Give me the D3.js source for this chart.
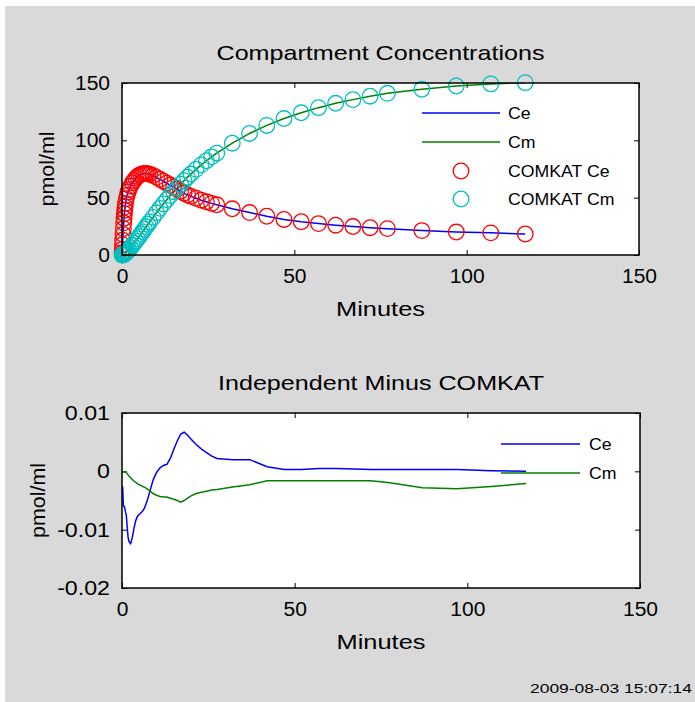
<!DOCTYPE html>
<html><head><meta charset="utf-8">
<script src="https://cdn.jsdelivr.net/npm/d3@7"></script>
<style>
html,body{margin:0;padding:0;background:#fff;}
svg text{font-family:"Liberation Sans",Arial,sans-serif;fill:#000;}
</style></head>
<body>
<svg id="chart" width="695" height="702"></svg>
<script>
// ---- data ----
const times = [0.05,0.1,0.15,0.2,0.3,0.4,0.5,0.6,0.7,0.8,0.9,1.0,1.25,1.5,1.75,2.0,2.5,3.0,3.5,4.0,4.5,5.0,5.5,6.0,6.5,7.0,7.5,8.0,9,10,11,12,13,14,15,16,17,18,19,20,21.5,23,24.5,26,27.5,32,37,42,47,52,57,62,67,72,77,87,97,107,117];
const ceValues = [2,5,9,13,18,23,28,32,36,39,42,45,49,52,55,57,60,63,65,67,68.5,69.5,70.3,70.8,71,71,70.8,70.4,69.4,67.7,66,64.3,62.6,61,59.2,57.4,55.6,53.8,52.4,51.1,49.5,47.8,46.4,45,43.8,40.3,37,33.8,31,29,27.4,26,24.8,23.8,23,21.3,20,19.3,18.3];
const cmValues = [0.01,0.03,0.07,0.12,0.2,0.3,0.43,0.6,0.82,1.04,1.29,1.55,2.25,3.0,3.8,4.65,6.4,8.25,10.2,12.1,14.2,16.2,18.3,20.4,22.5,24.6,26.7,28.8,32.8,36.8,40.7,44.5,48.2,51.8,55.2,58.5,61.7,64.8,67.8,70.6,74.7,78.6,82.2,85.6,88.8,97.5,106,113,119,124,128.5,132.3,135.5,138.5,141,144.5,147.4,149.2,150.3];
const diffCe = [-0.0025,-0.0026,-0.0027,-0.0028,-0.0045,-0.0058,-0.006,-0.006,-0.0061,-0.0063,-0.0066,-0.007,-0.0075,-0.0095,-0.0112,-0.012,-0.0124,-0.0113,-0.0097,-0.0084,-0.0077,-0.0074,-0.0071,-0.0068,-0.0063,-0.0055,-0.0046,-0.0036,-0.0015,-0.0002,0.0006,0.001,0.0012,0.0022,0.0038,0.0052,0.0064,0.0067,0.0062,0.0055,0.0046,0.0038,0.0032,0.0026,0.0022,0.002,0.002,0.0008,0.0003,0.0003,0.0005,0.0005,0.0004,0.0003,0.0003,0.0003,0.0003,0.0001,0.0];
const diffCm = [0,0,0,-0.0001,-0.0001,-0.0001,-0.0001,-0.0001,-0.0001,-0.0001,-0.0001,-0.0001,-0.0002,-0.0004,-0.0006,-0.0008,-0.0011,-0.0014,-0.0017,-0.0019,-0.0021,-0.0023,-0.0024,-0.0026,-0.0027,-0.0029,-0.0031,-0.0033,-0.0038,-0.0041,-0.0043,-0.0044,-0.0044,-0.0046,-0.0048,-0.005,-0.0053,-0.005,-0.0046,-0.0042,-0.0038,-0.0036,-0.0034,-0.0032,-0.0031,-0.0027,-0.0023,-0.0016,-0.0016,-0.0016,-0.0016,-0.0016,-0.0016,-0.0016,-0.0019,-0.0028,-0.003,-0.0026,-0.0021];
const xTicks = [0,50,100,150];
const topYTicks = [0,50,100,150];
const botYTicks = [0.01,0,-0.01,-0.02];
const botYTickLabels = ["0.01","0","-0.01","-0.02"];
const topLegend = ["Ce","Cm","COMKAT Ce","COMKAT Cm"];
const botLegend = ["Ce","Cm"];
const titles = ["Compartment Concentrations","Independent Minus COMKAT"];
const xLabel = "Minutes", yLabel = "pmol/ml";
const stamp = "2009-08-03 15:07:14";

// ---- drawing ----
const svg = d3.select("#chart");
svg.append("rect").attr("x",5).attr("y",6).attr("width",690).attr("height",696).attr("fill","#d9d9d9");

const C = {ce:"#0000ff", cm:"#008000", ceO:"#ff0000", cmO:"#00bfbf"};
const TF = 20;

// stretch text horizontally (the reference glyphs are wide)
function stretch(sel, factor){
  sel.each(function(){
    const w = this.getComputedTextLength();
    if (w > 0) d3.select(this).attr("textLength", w*factor).attr("lengthAdjust","spacingAndGlyphs");
  });
  return sel;
}

function panel(cfg){
  const g = svg.append("g");
  const x = d3.scaleLinear().domain([0,150]).range([cfg.l,cfg.r]);
  const y = d3.scaleLinear().domain(cfg.yDom).range([cfg.b,cfg.t]);
  g.append("rect").attr("x",cfg.l).attr("y",cfg.t).attr("width",cfg.r-cfg.l).attr("height",cfg.b-cfg.t).attr("fill","#fff");
  const clipId = "clip"+cfg.id;
  svg.append("clipPath").attr("id",clipId).append("rect").attr("x",cfg.l).attr("y",cfg.t).attr("width",cfg.r-cfg.l).attr("height",cfg.b-cfg.t);
  const ax = (gen, tr, f) => {
    const a = g.append("g").attr("transform",tr).call(gen);
    a.select(".domain").remove();
    a.selectAll("line").attr("stroke","#000").attr("stroke-width",1);
    a.selectAll("text").attr("font-size",TF).attr("font-family","Liberation Sans, Arial, sans-serif");
    stretch(a.selectAll("text"), f);
    return a;
  };
  ax(d3.axisBottom(x).tickValues(xTicks).tickSize(-5).tickPadding(14).tickFormat(d3.format("d")), `translate(0,${cfg.b})`, 1.05);
  ax(d3.axisTop(x).tickValues(xTicks).tickSize(-5).tickFormat(""), `translate(0,${cfg.t})`, 1);
  ax(d3.axisLeft(y).tickValues(cfg.yTicks).tickSize(-5).tickPadding(12).tickFormat((d,i)=>cfg.yLabels[i]), `translate(${cfg.l},0)`, cfg.yf);
  ax(d3.axisRight(y).tickValues(cfg.yTicks).tickSize(-5).tickFormat(""), `translate(${cfg.r},0)`, 1);
  const plot = g.append("g").attr("clip-path",`url(#${clipId})`);
  cfg.lines.forEach(s=>{
    plot.append("path").datum(s.v).attr("fill","none").attr("stroke",s.c).attr("stroke-width",1.5)
      .attr("d", d3.line().x((d,i)=>x(times[i])).y(d=>y(d)));
  });
  (cfg.circles||[]).forEach(s=>{
    g.append("g").selectAll("circle").data(s.v).join("circle")
      .attr("cx",(d,i)=>x(times[i])).attr("cy",d=>y(d)).attr("r",7.8)
      .attr("fill","none").attr("stroke",s.c).attr("stroke-width",1.3);
  });
  g.append("rect").attr("x",cfg.l).attr("y",cfg.t).attr("width",cfg.r-cfg.l).attr("height",cfg.b-cfg.t)
    .attr("fill","none").attr("stroke","#000").attr("stroke-width",1.5);
  g.append("text").attr("x",(cfg.l+cfg.r)/2).attr("y",cfg.t-30).attr("dy","0.35em").attr("text-anchor","middle").attr("font-size",21)
    .text(cfg.title).attr("textLength",cfg.titleW).attr("lengthAdjust","spacingAndGlyphs");
  g.append("text").attr("x",(cfg.l+cfg.r)/2).attr("y",cfg.b+54).attr("dy","0.35em").attr("text-anchor","middle").attr("font-size",21)
    .text(xLabel).attr("textLength",89).attr("lengthAdjust","spacingAndGlyphs");
  g.append("text").attr("transform",`translate(${cfg.yl},${(cfg.t+cfg.b)/2}) rotate(-90)`).attr("dy","0.35em").attr("text-anchor","middle").attr("font-size",21)
    .text(yLabel).attr("textLength",75).attr("lengthAdjust","spacingAndGlyphs");
  cfg.legend.forEach((L,i)=>{
    const ly = cfg.legY[i];
    if(L.type==="line"){
      g.append("line").attr("x1",cfg.legX0).attr("x2",cfg.legX1).attr("y1",ly).attr("y2",ly).attr("stroke",L.c).attr("stroke-width",1.5);
    } else {
      g.append("circle").attr("cx",(cfg.legX0+cfg.legX1)/2).attr("cy",ly).attr("r",7.8).attr("fill","none").attr("stroke",L.c).attr("stroke-width",1.3);
    }
    const t = g.append("text").attr("x",cfg.legTx).attr("y",ly).attr("dy","0.35em").attr("font-size",17).text(L.t);
    stretch(t, 1.04);
  });
}

panel({id:1,l:122,r:639,t:83,b:255,yDom:[0,150],yTicks:topYTicks,yLabels:topYTicks.map(String),yf:1.05,
  title:titles[0], titleW:328, yl:47,
  lines:[{v:ceValues,c:C.ce},{v:cmValues,c:C.cm}],
  circles:[{v:ceValues,c:C.ceO},{v:cmValues,c:C.cmO}],
  legX0:422,legX1:500,legTx:508,legY:[113,142,171,199],
  legend:[{t:topLegend[0],type:"line",c:C.ce},{t:topLegend[1],type:"line",c:C.cm},{t:topLegend[2],type:"circle",c:C.ceO},{t:topLegend[3],type:"circle",c:C.cmO}]
});
panel({id:2,l:122,r:640,t:413,b:588,yDom:[-0.02,0.01],yTicks:botYTicks,yLabels:botYTickLabels,yf:1.16,
  title:titles[1], titleW:326, yl:38,
  lines:[{v:diffCe,c:C.ce},{v:diffCm,c:C.cm}],
  legX0:501,legX1:580,legTx:589,legY:[444,473],
  legend:[{t:botLegend[0],type:"line",c:C.ce},{t:botLegend[1],type:"line",c:C.cm}]
});
svg.append("text").attr("x",692).attr("y",688).attr("dy","0.35em").attr("text-anchor","end").attr("font-size",13)
  .text(stamp).attr("textLength",162).attr("lengthAdjust","spacingAndGlyphs");
</script>
</body></html>
